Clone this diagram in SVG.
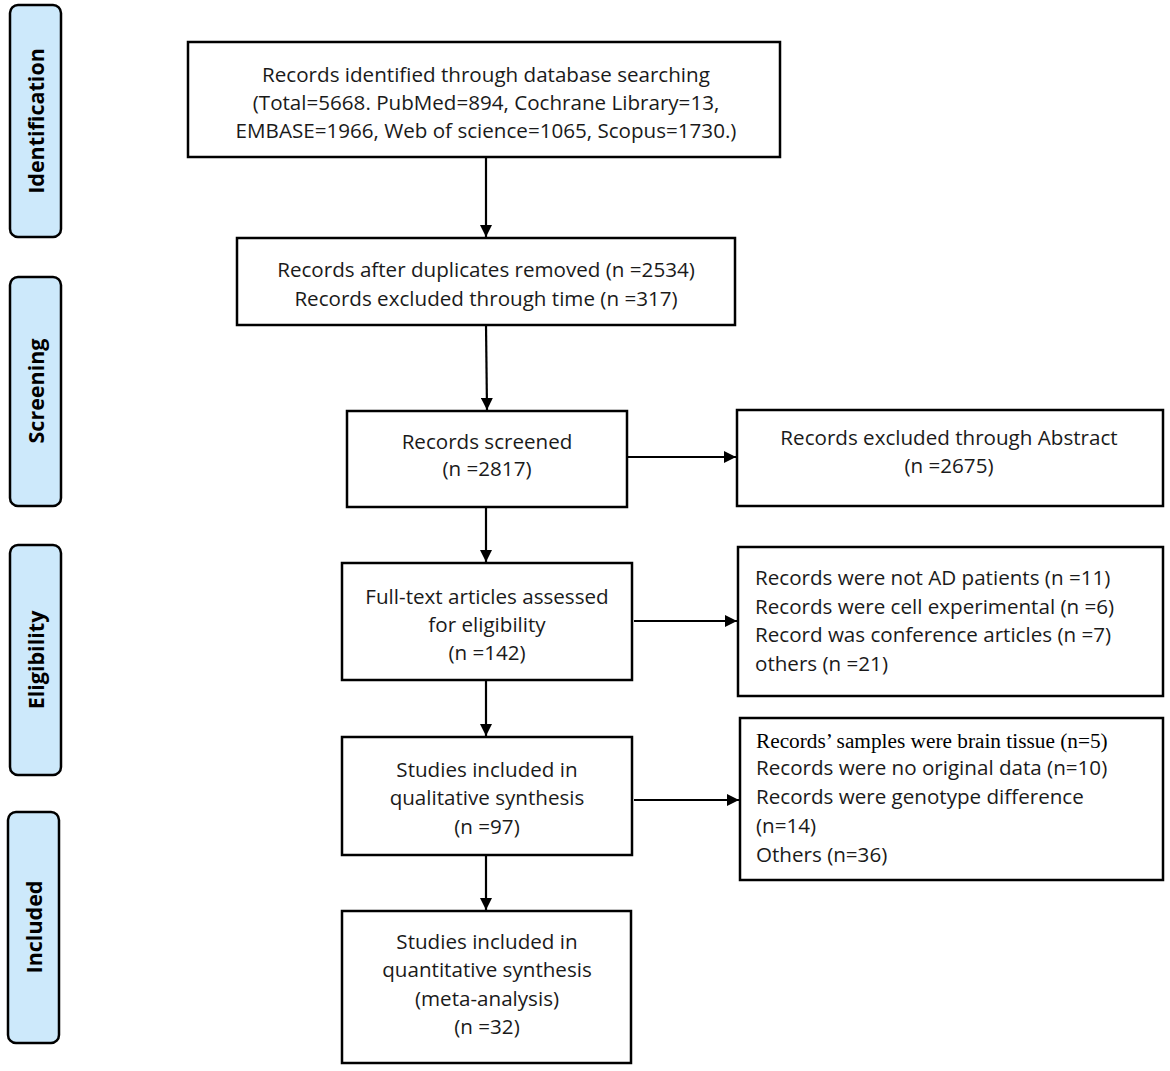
<svg xmlns="http://www.w3.org/2000/svg" width="1170" height="1071" viewBox="0 0 1170 1071">
<style>
.box{fill:#fff;stroke:#000;stroke-width:2.5}
.side{fill:#cde9fb;stroke:#000;stroke-width:2.5}
.t{font-family:"Open Sans","Noto Sans",sans-serif;font-size:20.6px;fill:#1a1a1a}
.c{text-anchor:middle}
.sl{font-family:"Open Sans","Noto Sans",sans-serif;font-size:21.5px;font-weight:bold;fill:#000;text-anchor:middle}
.serif{font-family:"Liberation Serif","Times New Roman",serif;font-size:21.3px}
.ln{stroke:#000;stroke-width:2.2;fill:none}
</style>
<defs>
<marker id="ah" viewBox="0 0 10 10" refX="10" refY="5" markerWidth="5.5" markerHeight="5.5" orient="auto" markerUnits="strokeWidth">
<path d="M0,0 L10,5 L0,10 z" fill="#000"/>
</marker>
</defs>
<g id="side-identification"><rect class="side" x="10" y="5" width="51" height="232" rx="8"/><text class="sl" transform="translate(44,121) rotate(-90)">Identification</text></g>
<g id="side-screening"><rect class="side" x="10" y="277" width="51" height="229" rx="8"/><text class="sl" transform="translate(44,391) rotate(-90)">Screening</text></g>
<g id="side-eligibility"><rect class="side" x="10" y="545" width="51" height="230" rx="8"/><text class="sl" transform="translate(44,660) rotate(-90)">Eligibility</text></g>
<g id="side-included"><rect class="side" x="8" y="812" width="51" height="231" rx="8"/><text class="sl" transform="translate(42,927) rotate(-90)">Included</text></g>

<g id="n-identified"><rect class="box" x="188" y="42" width="592" height="115"/>
<text class="t c" x="486" y="82">Records identified through database searching</text>
<text class="t c" x="486" y="110">(Total=5668. PubMed=894, Cochrane Library=13,</text>
<text class="t c" x="486" y="138">EMBASE=1966, Web of science=1065, Scopus=1730.)</text></g>

<g id="n-duplicates"><rect class="box" x="237" y="238" width="498" height="87"/>
<text class="t c" x="486" y="277">Records after duplicates removed (n =2534)</text>
<text class="t c" x="486" y="306">Records excluded through time (n =317)</text></g>

<g id="n-screened"><rect class="box" x="347" y="411" width="280" height="96"/>
<text class="t c" x="487" y="449">Records screened</text>
<text class="t c" x="487" y="476">(n =2817)</text></g>

<g id="n-excl-abstract"><rect class="box" x="737" y="410" width="426" height="96"/>
<text class="t c" x="949" y="445">Records excluded through Abstract</text>
<text class="t c" x="949" y="473">(n =2675)</text></g>

<g id="n-fulltext"><rect class="box" x="342" y="563" width="290" height="117"/>
<text class="t c" x="487" y="604">Full-text articles assessed</text>
<text class="t c" x="487" y="632">for eligibility</text>
<text class="t c" x="487" y="660">(n =142)</text></g>

<g id="n-excl-eligibility"><rect class="box" x="738" y="547" width="425" height="149"/>
<text class="t" x="755" y="585">Records were not AD patients (n =11)</text>
<text class="t" x="755" y="614">Records were cell experimental (n =6)</text>
<text class="t" x="755" y="642">Record was conference articles (n =7)</text>
<text class="t" x="755" y="671">others (n =21)</text></g>

<g id="n-qualitative"><rect class="box" x="342" y="737" width="290" height="118"/>
<text class="t c" x="487" y="777">Studies included in</text>
<text class="t c" x="487" y="805">qualitative synthesis</text>
<text class="t c" x="487" y="834">(n =97)</text></g>

<g id="n-excl-qualitative"><rect class="box" x="740" y="718" width="423" height="162"/>
<text class="serif" x="756" y="748">Records’ samples were brain tissue (n=5)</text>
<text class="t" x="756" y="775">Records were no original data (n=10)</text>
<text class="t" x="756" y="804">Records were genotype difference</text>
<text class="t" x="756" y="833">(n=14)</text>
<text class="t" x="756" y="862">Others (n=36)</text></g>

<g id="n-quantitative"><rect class="box" x="342" y="911" width="289" height="152"/>
<text class="t c" x="487" y="949">Studies included in</text>
<text class="t c" x="487" y="977">quantitative synthesis</text>
<text class="t c" x="487" y="1006">(meta-analysis)</text>
<text class="t c" x="487" y="1034">(n =32)</text></g>

<g id="connectors">
<line class="ln" x1="486" y1="157" x2="486" y2="237" marker-end="url(#ah)"/>
<line class="ln" x1="486" y1="325" x2="487" y2="410" marker-end="url(#ah)"/>
<line class="ln" x1="486" y1="507" x2="486" y2="562" marker-end="url(#ah)"/>
<line class="ln" x1="486" y1="680" x2="486" y2="736" marker-end="url(#ah)"/>
<line class="ln" x1="486" y1="855" x2="486" y2="910" marker-end="url(#ah)"/>
<line class="ln" x1="627" y1="457" x2="736" y2="457" marker-end="url(#ah)"/>
<line class="ln" x1="634" y1="621" x2="737" y2="621" marker-end="url(#ah)"/>
<line class="ln" x1="634" y1="800" x2="739" y2="800" marker-end="url(#ah)"/>
</g>
</svg>
